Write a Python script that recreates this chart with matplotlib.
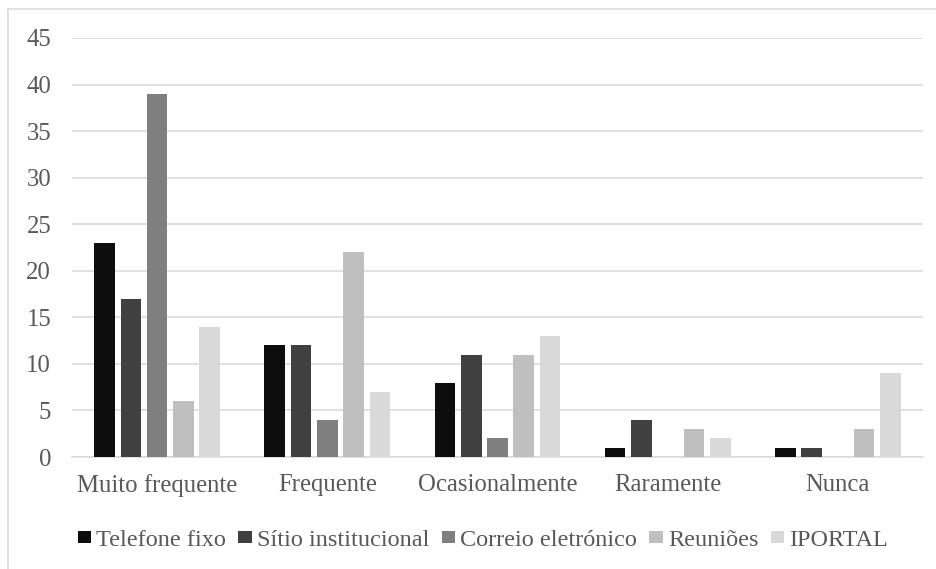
import matplotlib
matplotlib.use("Agg")
import matplotlib.pyplot as plt
from matplotlib.patches import Patch
from matplotlib.lines import Line2D
import numpy as np

categories = ["Muito frequente", "Frequente", "Ocasionalmente", "Raramente", "Nunca"]
series_names = ["Telefone fixo", "Sítio institucional", "Correio eletrónico", "Reuniões", "IPORTAL"]
telefone_fixo = [23, 12, 8, 1, 1]
sitio_institucional = [17, 12, 11, 4, 1]
correio_eletronico = [39, 4, 2, 0, 0]
reunioes = [6, 22, 11, 3, 3]
iportal = [14, 7, 13, 2, 9]
y_ticks = [0, 5, 10, 15, 20, 25, 30, 35, 40, 45]

series = [telefone_fixo, sitio_institucional, correio_eletronico, reunioes, iportal]
colors = ["#0d0d0d", "#404040", "#7f7f7f", "#bfbfbf", "#d9d9d9"]

plt.rcParams['font.family'] = ['Liberation Serif', 'DejaVu Serif']
W, H = 937, 569
fig = plt.figure(figsize=(W / 100, H / 100), dpi=100)
fig.patch.set_facecolor("white")

# outer border
fig.add_artist(Line2D([8 / W, 8 / W], [0, 1 - 8.5 / H], transform=fig.transFigure, color="#d9d9d9", lw=1.1))
fig.add_artist(Line2D([8 / W, 1], [1 - 8.5 / H, 1 - 8.5 / H], transform=fig.transFigure, color="#d9d9d9", lw=1.1))

x0, x1 = 72, 923
ytop, ybot = 38, 457
ax = fig.add_axes([x0 / W, 1 - ybot / H, (x1 - x0) / W, (ybot - ytop) / H])

x = np.arange(len(categories))
step = 0.1545
width = 0.121
for i, (vals, c, name) in enumerate(zip(series, colors, series_names)):
    ax.bar(x + (i - 2) * step, vals, width=width, color=c, zorder=3, label=name)

ax.set_xlim(-0.5, len(categories) - 0.5)
ax.set_ylim(0, 45)
ax.set_yticks(y_ticks)
ax.set_xticks(x)
ax.set_xticklabels(categories)
ax.grid(axis="y", color="#d9d9d9", lw=1.1, zorder=0)
ax.set_axisbelow(True)
for s in ["top", "right", "left"]:
    ax.spines[s].set_visible(False)
ax.spines["bottom"].set_color("#d9d9d9")
ax.spines["bottom"].set_linewidth(1.1)
ax.tick_params(axis="both", length=0, labelsize=17.8, labelcolor="#595959")
ax.tick_params(axis="y", pad=15)
ax.tick_params(axis="x", pad=12)

handles = [Patch(facecolor=c, edgecolor="none") for c in colors]
leg = fig.legend(handles, series_names, loc="center", bbox_to_anchor=(483 / W, 1 - 540 / H),
                 ncol=5, frameon=False, fontsize=17.5, handlelength=0.55, handleheight=0.39,
                 handletextpad=0.22, columnspacing=0.5, borderpad=0, borderaxespad=0)
for t in leg.get_texts():
    t.set_color("#595959")

fig.savefig("out.png", dpi=100, facecolor="white")
